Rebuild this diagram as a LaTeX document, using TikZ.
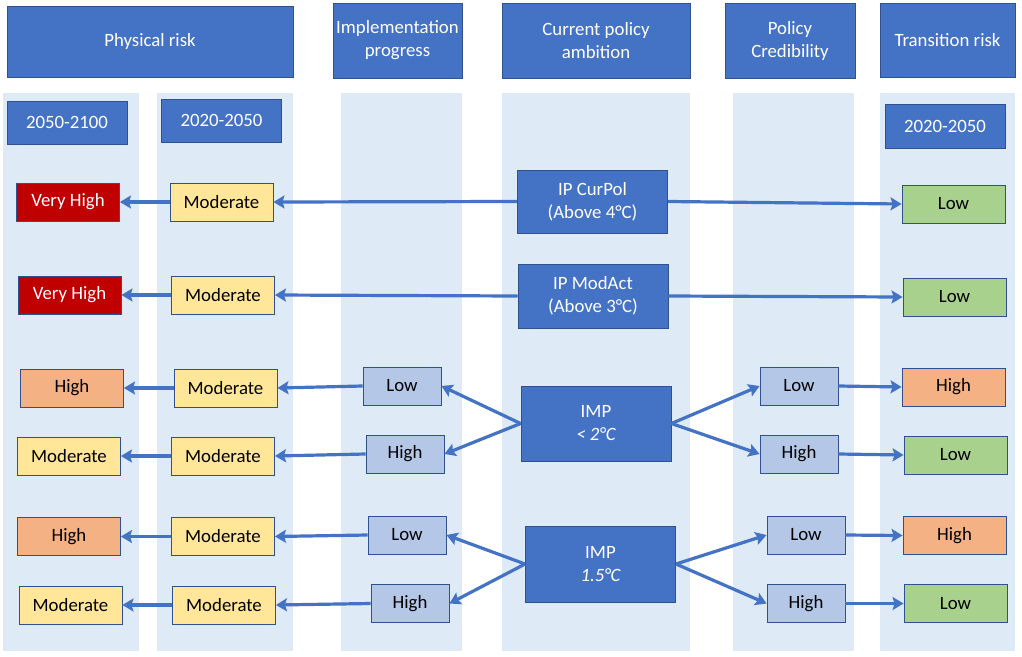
\documentclass[tikz,border=0pt]{standalone}
\usepackage{fontspec}
\setmainfont{Carlito}
\usetikzlibrary{arrows.meta, positioning}
\definecolor{hdr}{HTML}{4472C4}
\definecolor{edge}{HTML}{2F528F}
\definecolor{lane}{HTML}{DEEBF7}
\definecolor{vhigh}{HTML}{C00000}
\definecolor{high}{HTML}{F4B183}
\definecolor{mod}{HTML}{FFE699}
\definecolor{low}{HTML}{A9D18E}
\definecolor{lvl}{HTML}{B4C7E7}

\begin{document}
\begin{tikzpicture}[
    x=1pt, y=-1pt,
    every node/.style={font=\fontsize{18.8}{23}\selectfont, inner sep=0pt},
    header/.style={rectangle, draw=edge, line width=0.9pt, fill=hdr, text=white, align=center},
    period/.style={header, minimum width=120pt, minimum height=43pt},
    scenario/.style={header, minimum width=150pt},
    risk/.style={rectangle, draw=edge, line width=0.9pt, minimum width=103pt, minimum height=38pt},
    level/.style={risk, fill=lvl, minimum width=78pt},
    arrow/.style={-{Stealth[length=11pt,width=13pt,inset=2pt]}, line width=3.2pt, draw=hdr}
]
\useasboundingbox (0,0) rectangle (1022,656);

% Lanes
\foreach \xa/\xb in {3/139, 157/293, 341/462, 502/690, 733/854, 880/1015}
    \fill[lane] (\xa,93) rectangle (\xb,651);

% Headers
\node[header, minimum width=286pt, minimum height=71pt] (physical) at (150,41.5) {Physical risk};
\node[header, minimum width=129pt, minimum height=75pt] (impl) at (397.5,40.5) {Implementation\\progress};
\node[header, minimum width=188pt, minimum height=75pt] (ambition) at (596,40.5) {Current policy\\ambition};
\node[header, minimum width=130pt, minimum height=75pt] (cred) at (790,40.5) {Policy\\Credibility};
\node[header, minimum width=135pt, minimum height=74pt] (transition) at (947.5,40) {Transition risk};

\node[period] (p2100) at (67,122.5) {2050-2100};
\node[period] (p2050) at (221.5,120.5) {2020-2050};
\node[period, minimum height=44pt] (t2050) at (945,126) {2020-2050};

% Scenarios
\node[scenario, minimum height=63pt] (curpol) at (592.5,201.5) {IP CurPol\\(Above 4°C)};
\node[scenario, minimum height=64pt] (modact) at (593,296) {IP ModAct\\(Above 3°C)};
\node[scenario, minimum height=75pt] (imp2) at (596,423.5) {IMP\\{\itshape < 2°C}};
\node[scenario, minimum height=76pt] (imp15) at (600.5,564) {IMP\\{\itshape 1.5°C}};

% Implementation progress
\node[level] (il3) at (402,386) {Low};
\node[level] (ih4) at (405,454) {High};
\node[level] (il5) at (407,535) {Low};
\node[level] (ih6) at (410,603.5) {High};

% Policy credibility
\node[level] (cl3) at (799,386) {Low};
\node[level] (ch4) at (799,454) {High};
\node[level] (cl5) at (806,535) {Low};
\node[level] (ch6) at (806,603.5) {High};

% Physical risk 2020-2050
\node[risk, fill=mod] (mod1) at (221.5,202) {Moderate};
\node[risk, fill=mod] (mod2) at (223,295) {Moderate};
\node[risk, fill=mod] (mod3) at (225.5,388) {Moderate};
\node[risk, fill=mod] (mod4) at (223,456) {Moderate};
\node[risk, fill=mod] (mod5) at (223,536.5) {Moderate};
\node[risk, fill=mod] (mod6) at (224,605) {Moderate};

% Physical risk 2050-2100
\node[risk, fill=vhigh, text=white] (long1) at (68,202) {Very High};
\node[risk, fill=vhigh, text=white] (long2) at (69.5,295) {Very High};
\node[risk, fill=high] (long3) at (72,388) {High};
\node[risk, fill=mod] (long4) at (69,456) {Moderate};
\node[risk, fill=high] (long5) at (69,536.5) {High};
\node[risk, fill=mod] (long6) at (70.5,605) {Moderate};

% Transition risk
\node[risk, fill=low] (tr1) at (953.5,204) {Low};
\node[risk, fill=low] (tr2) at (954.5,297) {Low};
\node[risk, fill=high] (tr3) at (953.5,387) {High};
\node[risk, fill=low] (tr4) at (955.5,455) {Low};
\node[risk, fill=high] (tr5) at (954.5,535.5) {High};
\node[risk, fill=low] (tr6) at (955.5,603.5) {Low};

% Current policies and moderate action
\draw[arrow] (curpol.west) -- (mod1.east);
\draw[arrow] (mod1.west) -- (long1.east);
\draw[arrow] (curpol.east) -- (tr1.west);
\draw[arrow] (modact.west) -- (mod2.east);
\draw[arrow] (mod2.west) -- (long2.east);
\draw[arrow] (modact.east) -- (tr2.west);

% IMP < 2°C
\draw[arrow] (imp2.west) -- (il3.east);
\draw[arrow] (imp2.west) -- (ih4.east);
\draw[arrow] (imp2.east) -- (cl3.west);
\draw[arrow] (imp2.east) -- (ch4.west);
\draw[arrow] (il3.west) -- (mod3.east);
\draw[arrow] (ih4.west) -- (mod4.east);
\draw[arrow] (mod3.west) -- (long3.east);
\draw[arrow] (mod4.west) -- (long4.east);
\draw[arrow] (cl3.east) -- (tr3.west);
\draw[arrow] (ch4.east) -- (tr4.west);

% IMP 1.5°C
\draw[arrow] (imp15.west) -- (il5.east);
\draw[arrow] (imp15.west) -- (ih6.east);
\draw[arrow] (imp15.east) -- (cl5.west);
\draw[arrow] (imp15.east) -- (ch6.west);
\draw[arrow] (il5.west) -- (mod5.east);
\draw[arrow] (ih6.west) -- (mod6.east);
\draw[arrow] (mod5.west) -- (long5.east);
\draw[arrow] (mod6.west) -- (long6.east);
\draw[arrow] (cl5.east) -- (tr5.west);
\draw[arrow] (ch6.east) -- (tr6.west);

\end{tikzpicture}
\end{document}
